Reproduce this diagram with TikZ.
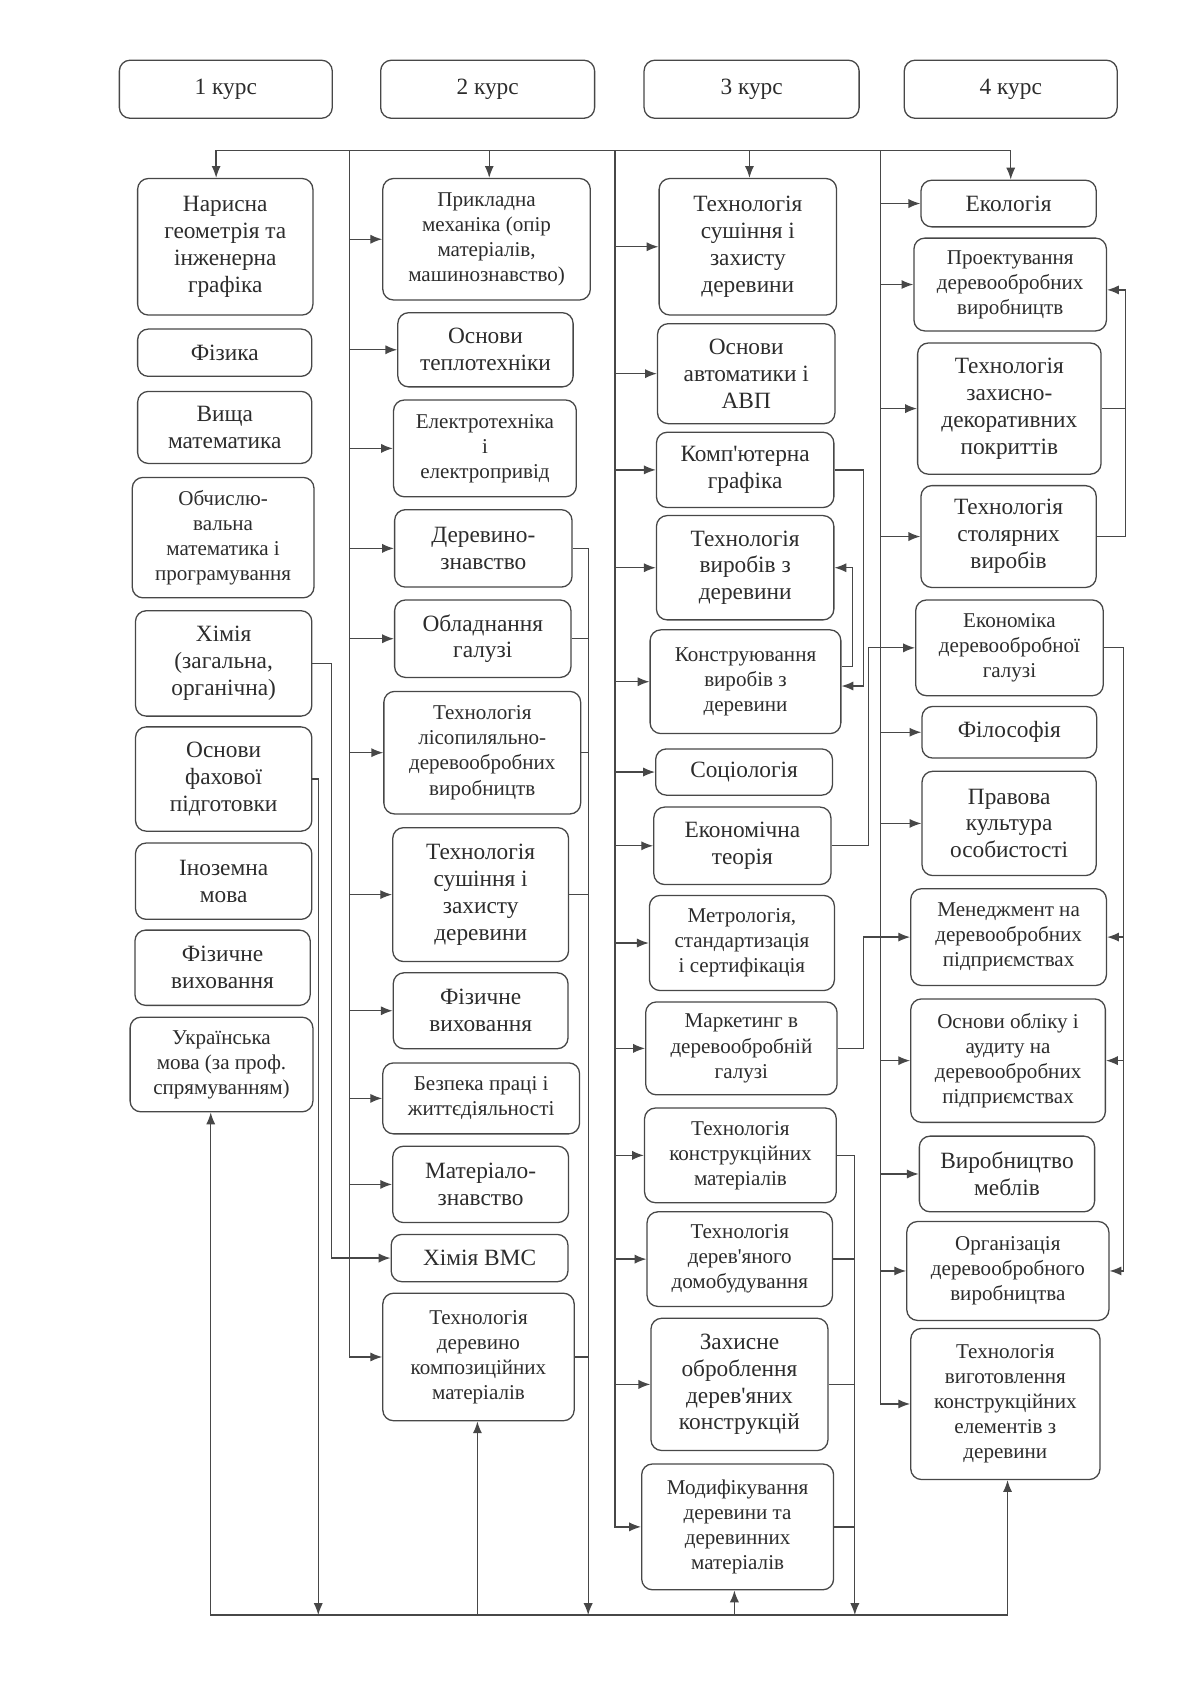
\documentclass[tikz,border=0pt]{standalone}
\usepackage{fontspec}
\newfontfamily\ukrfont{Liberation Serif}
\usetikzlibrary{arrows.meta}
\definecolor{lgray}{HTML}{474747}
\definecolor{tgray}{HTML}{2C2C2C}
\newcommand{\bigtxt}{\ukrfont\fontsize{21.7}{25}\selectfont}
\newcommand{\smtxt}{\ukrfont\fontsize{19.6}{23.3}\selectfont}

\begin{document}
\begin{tikzpicture}[x=1pt,y=-1pt,>={Latex[length=11pt,width=8.5pt]},line width=1.2pt,color=lgray,
  box/.style={draw=lgray,rounded corners=10pt,align=center,inner sep=2pt,text=tgray,font=\bigtxt},
  sbox/.style={box,font=\smtxt},
  wh/.style 2 args={minimum width=#1pt,minimum height=#2pt}]

\useasboundingbox (0,0) rectangle (1101,1568);

% курси
\node[box,wh={198}{54}] (k1) at (210,83) {1 курс};
\node[box,wh={199}{54}] (k2) at (453.5,83) {2 курс};
\node[box,wh={200}{54}] (k3) at (699,83) {3 курс};
\node[box,wh={198}{54}] (k4) at (940,83) {4 курс};

% 1 курс
\node[box,wh={163}{127}] (nar) at (209.5,229.5) {Нарисна\\геометрія та\\інженерна\\графіка};
\node[box,wh={162}{44}] (fiz) at (209,328) {Фізика};
\node[box,wh={162}{67}] (vyshch) at (209,397.5) {Вища\\математика};
\node[sbox,wh={169}{112}] (obch) at (207.5,500) {Обчислю-\\вальна\\математика і\\програмування};
\node[box,wh={164}{98}] (khim) at (208,617) {Хімія\\(загальна,\\органічна)};
\node[box,wh={164}{97}] (osnfakh) at (208,724.5) {Основи\\фахової\\підготовки};
\node[box,wh={164}{71}] (inoz) at (208,819.5) {Іноземна\\мова};
\node[box,wh={163}{70}] (fizv1) at (207,900) {Фізичне\\виховання};
\node[sbox,wh={170}{88}] (ukr) at (206,990) {Українська\\мова (за проф.\\спрямуванням)};

% 2 курс
\node[sbox,wh={193}{113}] (prykl) at (452.5,222.5) {Прикладна\\механіка (опір\\матеріалів,\\машинознавство)};
\node[box,wh={163}{69}] (teplo) at (451.5,325.3) {Основи\\теплотехніки};
\node[sbox,wh={170}{90}] (elektro) at (451,417) {Електротехніка\\і\\електропривід};
\node[box,wh={165}{72}] (derevzn) at (449.5,510) {Деревино-\\знавство};
\node[box,wh={164}{72}] (obladn) at (449,594) {Обладнання\\галузі};
\node[sbox,wh={183}{114}] (lisopyl) at (448.5,700) {Технологія\\лісопиляльно-\\деревообробних\\виробництв};
\node[box,wh={163.5}{124.5}] (sush2) at (447,832) {Технологія\\сушіння і\\захисту\\деревини};
\node[box,wh={162.5}{70.6}] (fizv2) at (447,940) {Фізичне\\виховання};
\node[sbox,wh={183}{66}] (bezpeka) at (447.5,1021.5) {Безпека праці і\\життєдіяльності};
\node[box,wh={163.5}{71}] (materzn) at (447,1101.5) {Матеріало-\\знавство};
\node[box,wh={164.4}{44}] (khimvms) at (446,1170) {Хімія ВМС};
\node[sbox,wh={178}{118.6}] (kompoz) at (445,1262) {Технологія\\деревино\\композиційних\\матеріалів};

% 3 курс
\node[box,wh={165}{127}] (sush3) at (695.5,229.5) {Технологія\\сушіння і\\захисту\\деревини};
\node[box,wh={165}{93}] (avtom) at (694,347.5) {Основи\\автоматики і\\АВП};
\node[box,wh={165}{70}] (komp) at (693,437) {Комп'ютерна\\графіка};
\node[box,wh={165}{97}] (vyrob) at (693,528) {Технологія\\виробів з\\деревини};
\node[sbox,wh={177.4}{96.5}] (konstr) at (693.3,634) {Конструювання\\виробів з\\деревини};
\node[box,wh={164.5}{43}] (sotsiol) at (692,718) {Соціологія};
\node[box,wh={164.7}{72}] (ekteor) at (690.4,786.6) {Економічна\\теорія};
\node[sbox,wh={172}{88.5}] (metrol) at (690,877) {Метрологія,\\стандартизація\\і сертифікація};
\node[sbox,wh={178}{86.4}] (market) at (689.5,975) {Маркетинг в\\деревообробній\\галузі};
\node[sbox,wh={178.3}{88}] (tkonstr) at (688.6,1074.5) {Технологія\\конструкційних\\матеріалів};
\node[sbox,wh={172.4}{88}] (domob) at (688,1171) {Технологія\\дерев'яного\\домобудування};
\node[box,wh={164.6}{123}] (zakhysne) at (687.7,1287.5) {Захисне\\оброблення\\дерев'яних\\конструкцій};
\node[sbox,wh={178.5}{117}] (modyf) at (686,1420) {Модифікування\\деревини та\\деревинних\\матеріалів};

% 4 курс
\node[box,wh={163}{43.4}] (ekol) at (938,189.3) {Екологія};
\node[sbox,wh={179}{86.3}] (proekt) at (939.5,264.6) {Проектування\\деревообробних\\виробництв};
\node[box,wh={170.6}{122}] (zakhdek) at (938.7,380) {Технологія\\захисно-\\декоративних\\покриттів};
\node[box,wh={163}{94.7}] (stolyar) at (938,499) {Технологія\\столярних\\виробів};
\node[sbox,wh={174.4}{89}] (ekonom) at (938.8,602.5) {Економіка\\деревообробної\\галузі};
\node[box,wh={162.5}{48}] (filos) at (938.7,681) {Філософія};
\node[box,wh={162}{97}] (pravova) at (938.5,765.8) {Правова\\культура\\особистості};
\node[sbox,wh={182}{90}] (menedzh) at (938,871.5) {Менеджмент на\\деревообробних\\підприємствах};
\node[sbox,wh={181}{114.8}] (oblik) at (937.5,986.4) {Основи обліку і\\аудиту на\\деревообробних\\підприємствах};
\node[box,wh={163}{70.4}] (mebli) at (936.5,1091.8) {Виробництво\\меблів};
\node[sbox,wh={188}{92}] (orhaniz) at (937.3,1182) {Організація\\деревообробного\\виробництва};
\node[sbox,wh={176}{140.5}] (vyhot) at (935,1305.7) {Технологія\\виготовлення\\конструкційних\\елементів з\\деревини};

% верхня лінія і шини
\coordinate (t1) at (201,140);
\coordinate (t2) at (455,140);
\coordinate (t3) at (697,140);
\coordinate (t4) at (940,140);
\coordinate (b12) at (325,140);
\coordinate (b23) at (572,140);
\coordinate (b34) at (819,140);

\draw[<->] (t1 |- nar.north) -- (t1) -- (t4) -- (t4 |- ekol.north);
\draw[->] (t2) -- (t2 |- prykl.north);
\draw[->] (t3) -- (t3 |- sush3.north);

\draw[->] (b12) |- (kompoz.west);
\path[->] (b12 |- prykl.west) edge (prykl.west)
          (b12 |- teplo.west) edge (teplo.west)
          (b12 |- elektro.west) edge (elektro.west)
          (b12 |- derevzn.west) edge (derevzn.west)
          (b12 |- obladn.west) edge (obladn.west)
          (b12 |- lisopyl.west) edge (lisopyl.west)
          (b12 |- sush2.west) edge (sush2.west)
          (b12 |- fizv2.west) edge (fizv2.west)
          (b12 |- bezpeka.west) edge (bezpeka.west)
          (b12 |- materzn.west) edge (materzn.west);

\draw[->] (b23) |- (modyf.west);
\path[->] (b23 |- sush3.west) edge (sush3.west)
          (b23 |- avtom.west) edge (avtom.west)
          (b23 |- komp.west) edge (komp.west)
          (b23 |- vyrob.west) edge (vyrob.west)
          (b23 |- konstr.west) edge (konstr.west)
          (b23 |- sotsiol.west) edge (sotsiol.west)
          (b23 |- ekteor.west) edge (ekteor.west)
          (b23 |- metrol.west) edge (metrol.west)
          (b23 |- market.west) edge (market.west)
          (b23 |- tkonstr.west) edge (tkonstr.west)
          (b23 |- domob.west) edge (domob.west)
          (b23 |- zakhysne.west) edge (zakhysne.west);

\draw[->] (b34) |- (vyhot.west);
\path[->] (b34 |- ekol.west) edge (ekol.west)
          (b34 |- proekt.west) edge (proekt.west)
          (b34 |- zakhdek.west) edge (zakhdek.west)
          (b34 |- stolyar.west) edge (stolyar.west)
          (b34 |- filos.west) edge (filos.west)
          (b34 |- pravova.west) edge (pravova.west)
          (b34 |- oblik.west) edge (oblik.west)
          (b34 |- mebli.west) edge (mebli.west)
          (b34 |- orhaniz.west) edge (orhaniz.west);

% зв'язки між дисциплінами
\coordinate (xk) at (308,617);
\draw[->] (khim.east) -- (xk) |- (khimvms.west);
\coordinate (xa) at (803,437);
\draw[->] (komp.east) -- (xa) |- ([yshift=-4pt]konstr.east);
\coordinate (xb) at (793,620);
\draw[->] ([yshift=14pt]konstr.east) -- (xb) |- (vyrob.east);
\coordinate (xc) at (808,786.6);
\draw[->] (ekteor.east) -- (xc) |- (ekonom.west);
\coordinate (xd) at (803,975);
\draw[->] (market.east) -- (xd) |- (menedzh.west);
\coordinate (xe) at (1047,499);
\draw[->] (stolyar.east) -- (xe) |- ([yshift=-5pt]proekt.east);
\draw (zakhdek.east) -- (zakhdek.east -| xe);
\coordinate (xf) at (1045,602.5);
\draw[->] (ekonom.east) -- (xf) |- (orhaniz.east);
\path[->] (menedzh.east -| xf) edge (menedzh.east)
          (oblik.east -| xf) edge (oblik.east);

% нижня лінія
\coordinate (f1) at (196,1502);
\coordinate (f2) at (296,1502);
\coordinate (f3) at (444,1502);
\coordinate (f4) at (547,1502);
\coordinate (f5) at (683,1502);
\coordinate (f6) at (795,1502);
\coordinate (f7) at (937,1502);

\draw[<->] (f1 |- ukr.south) -- (f1) -- (f7) -- (f7 |- vyhot.south);
\draw[->] (osnfakh.east) -| (f2);
\draw[->] (f3) -- (f3 |- kompoz.south);
\draw[->] (derevzn.east) -| (f4);
\path (obladn.east) edge (obladn.east -| f4)
      (lisopyl.east) edge (lisopyl.east -| f4)
      (sush2.east) edge (sush2.east -| f4)
      (kompoz.east) edge (kompoz.east -| f4);
\draw[->] (f5) -- (f5 |- modyf.south);
\draw[->] (tkonstr.east) -| (f6);
\path (domob.east) edge (domob.east -| f6)
      (zakhysne.east) edge (zakhysne.east -| f6)
      (modyf.east) edge (modyf.east -| f6);

\end{tikzpicture}
\end{document}
